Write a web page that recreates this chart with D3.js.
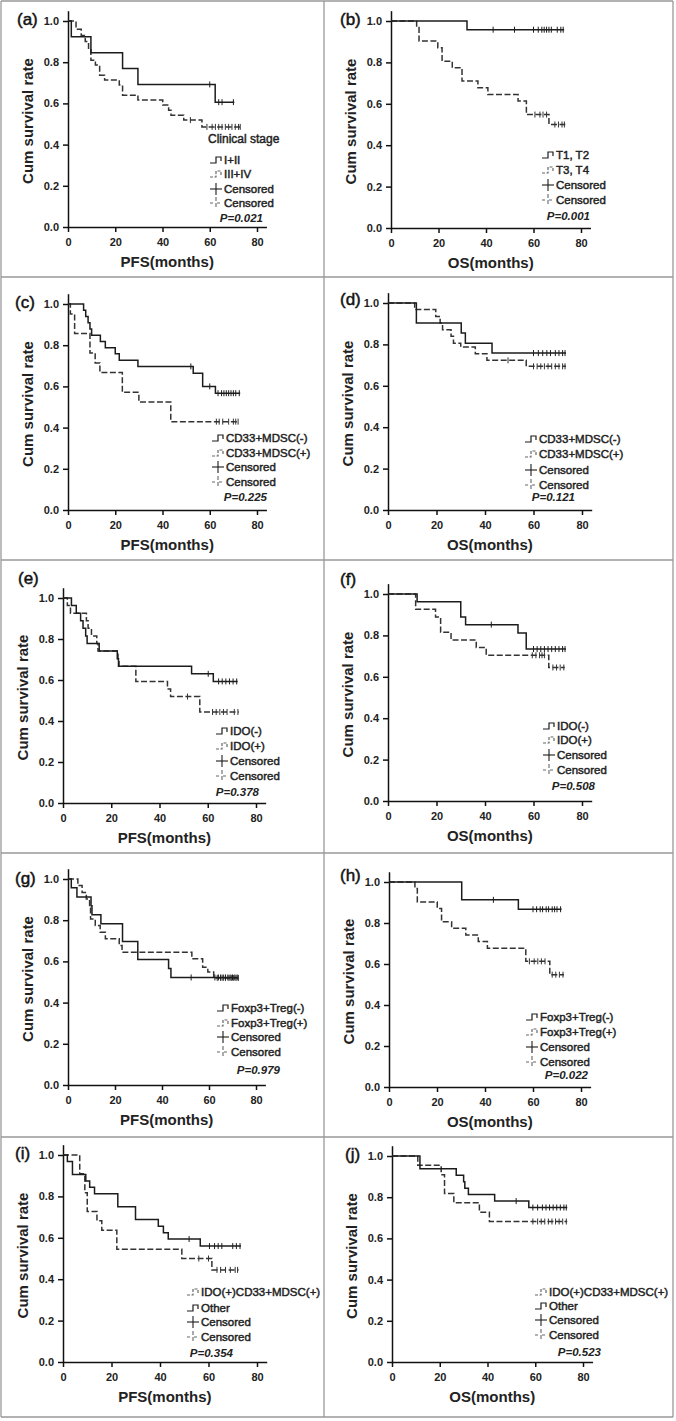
<!DOCTYPE html>
<html><head><meta charset="utf-8">
<script src="https://cdn.jsdelivr.net/npm/d3@7"></script>
<style>body{margin:0;background:#fff}svg{display:block;font-family:"Liberation Sans",Arial,sans-serif}</style>
</head><body><svg id="chart" width="676" height="1421"></svg>
<script>
// ---------- DATA (time in months, cumulative survival) ----------
const aSolid = [[0,1],[1.4,0.923],[9.7,0.846],[23.1,0.769],[29.6,0.692],[62.3,0.606]];
const aSolidCens = [60,63.8,65.2,70];
const aDashed = [[0,1],[3.4,0.96],[5.6,0.93],[7.3,0.90],[8.7,0.86],[9.7,0.81],[11.6,0.786],[13.4,0.737],[15.5,0.713],[21.7,0.689],[23.1,0.64],[29.6,0.616],[40.1,0.592],[42.6,0.567],[43.6,0.543],[49,0.519],[56.7,0.486]];
const aDashedCens = [51.8,58.8,61,62.4,63.8,65.2,66.6,68,69.4,70.8,72.2,72.9];

const bSolid = [[0,1],[32,0.958]];
const bSolidCens = [43,52,60,62,63.5,64.5,65.5,66.5,67.5,70,71.5,72.5];
const bDashed = [[0,1],[10.8,0.968],[11.8,0.903],[19.7,0.871],[21.5,0.806],[25.8,0.774],[29.9,0.71],[36.6,0.677],[40.8,0.645],[53.5,0.613],[57,0.548],[66.5,0.5]];
const bDashedCens = [60.6,62.7,64,65.5,69,70.5,72,73];

const cSolid = [[0,1],[6.6,0.97],[7.5,0.939],[8.5,0.909],[9.3,0.879],[10,0.848],[13.7,0.818],[15.8,0.788],[20,0.758],[21.7,0.727],[29.6,0.697],[53,0.664],[57,0.6],[62.4,0.567]];
const cSolidCens = [52,60,63.5,65,66,67,68,69,70,71,72.5];
const cDashed = [[0,1],[1.0,0.952],[2.8,0.857],[9.3,0.762],[11.5,0.714],[13.5,0.667],[23,0.571],[30,0.524],[43.5,0.429]];
const cDashedCens = [62.8,64,65.5,68,70,71,72];

const dSolid = [[0,1],[11.7,0.903],[30.2,0.855],[31.9,0.806],[42.9,0.758]];
const dSolidCens = [60,62,63.8,65.5,67,69,70.5,72,73];
const dDashed = [[0,1],[11,0.968],[19.7,0.935],[21.5,0.903],[22.5,0.871],[26,0.839],[27,0.806],[30,0.787],[36,0.755],[40.8,0.723],[57,0.694]];
const dDashedCens = [49.5,60,61.5,63,64.5,66,67.5,69,70.5,72,73];

const eSolid = [[0,1],[3.5,0.963],[5.5,0.926],[7.3,0.889],[8.3,0.852],[9.4,0.815],[10,0.778],[15,0.741],[22.5,0.704],[23,0.667],[53.3,0.63],[62.3,0.593]];
const eSolidCens = [60.2,64.5,66,67.5,69,70.5,72];
const eDashed = [[0,1],[1.8,0.963],[3.1,0.926],[9.7,0.889],[10.4,0.852],[11.8,0.815],[14,0.778],[14.5,0.741],[22.8,0.704],[23.2,0.667],[30.2,0.593],[43.3,0.556],[44.6,0.519],[56.7,0.444]];
const eDashedCens = [51.6,62,63.5,65,66.5,68,71,72.5];

const fSolid = [[0,1],[12,0.963],[30,0.889],[32,0.852],[53.6,0.811],[57,0.734]];
const fSolidCens = [42.6,60,61.5,63,64.5,66,67.5,69,70.5,72,73];
const fDashed = [[0,1],[11.4,0.926],[19.6,0.889],[21.7,0.815],[26,0.778],[36.4,0.741],[40.5,0.704],[66.3,0.645]];
const fDashedCens = [59.5,61,62.5,63.5,64.5,68,69.5,71,72.5];

const gSolid = [[0,1],[1.4,0.957],[3.8,0.913],[9.8,0.87],[10.2,0.826],[14,0.783],[23.2,0.696],[29.7,0.609],[42.8,0.565],[43.8,0.522]];
const gSolidCens = [52.4,62.5,64,65,66,67,68,69,70,71,72];
const gDashed = [[0,1],[4.2,0.968],[6,0.935],[7.8,0.903],[9.2,0.871],[9.6,0.806],[11.6,0.774],[13.7,0.742],[15.9,0.71],[21.8,0.677],[23,0.645],[52.7,0.613],[57.3,0.571],[59.5,0.548],[62,0.52]];
const gDashedCens = [63.5,65,66,67,68.5,69.5,70.5,71.5,72.5];

const hSolid = [[0,1],[30.3,0.913],[53.9,0.867]];
const hSolidCens = [43.5,60,61.5,63,64,65.5,66.5,68,69,70,71.5];
const hDashed = [[0,1],[10.8,0.968],[11.8,0.903],[20.1,0.871],[21.9,0.806],[26.1,0.774],[32,0.742],[37.2,0.71],[41,0.677],[57,0.613],[67,0.548]];
const hDashedCens = [58.5,60.5,62,63.5,65,68,69.5,71,72.5];

const iSolid = [[0,1],[1.8,0.969],[3.9,0.906],[9.4,0.875],[11,0.844],[13,0.813],[22.6,0.75],[29.9,0.688],[39.3,0.656],[41.4,0.625],[43.4,0.594],[56.6,0.56]];
const iSolidCens = [52,60.4,62.5,64,65.5,70,71.5,73];
const iDashed = [[0,1],[6.9,0.909],[9,0.818],[10,0.727],[14,0.682],[16,0.636],[22.2,0.545],[49,0.5],[61.4,0.445]];
const iDashedCens = [56,60,63.5,65,67,69,71,72];

const jSolid = [[0,1],[11.7,0.938],[26.9,0.906],[30,0.875],[30.5,0.844],[32,0.813],[43,0.781],[57.3,0.75]];
const jSolidCens = [52,59,61,63,64.5,66,67.5,69,70.5,72,73];
const jDashed = [[0,1],[10.8,0.955],[20.6,0.909],[22,0.818],[25.9,0.773],[36.6,0.727],[40.8,0.682]];
const jDashedCens = [59,61,62.5,64,65.5,67,68.5,70,71.5,73];

const panelTags = ["(a)","(b)","(c)","(d)","(e)","(f)","(g)","(h)","(i)","(j)"];
const xTitles = ["PFS(months)","OS(months)","PFS(months)","OS(months)","PFS(months)","OS(months)","PFS(months)","OS(months)","PFS(months)","OS(months)"];
const groupNames = [
  ["I+II","III+IV"],["T1, T2","T3, T4"],
  ["CD33+MDSC(-)","CD33+MDSC(+)"],["CD33+MDSC(-)","CD33+MDSC(+)"],
  ["IDO(-)","IDO(+)"],["IDO(-)","IDO(+)"],
  ["Foxp3+Treg(-)","Foxp3+Treg(+)"],["Foxp3+Treg(-)","Foxp3+Treg(+)"],
  ["Other","IDO(+)CD33+MDSC(+)"],["Other","IDO(+)CD33+MDSC(+)"]
];
const pValues = ["0.021","0.001","0.225","0.121","0.378","0.508","0.979","0.022","0.354","0.523"];
const yTicks = [0,0.2,0.4,0.6,0.8,1.0];
const xTicks = [0,20,40,60,80];
const censLabel = "Censored";
const legendHeader = "Clinical stage";

const curves = [
  [aSolid,aSolidCens,aDashed,aDashedCens],[bSolid,bSolidCens,bDashed,bDashedCens],
  [cSolid,cSolidCens,cDashed,cDashedCens],[dSolid,dSolidCens,dDashed,dDashedCens],
  [eSolid,eSolidCens,eDashed,eDashedCens],[fSolid,fSolidCens,fDashed,fDashedCens],
  [gSolid,gSolidCens,gDashed,gDashedCens],[hSolid,hSolidCens,hDashed,hDashedCens],
  [iSolid,iSolidCens,iDashed,iDashedCens],[jSolid,jSolidCens,jDashed,jDashedCens]
];

// ---------- LAYOUT ----------
const layout = [
  {x0:68,x80:257,y1:21,y0:227,tag:[17,25],sym:210,rows:[160,174,189,203],pR:263,pY:222,head:[208,143]},
  {x0:391,x80:581,y1:21,y0:228,tag:[340,25],sym:542,rows:[155,170,185,200],pR:590,pY:220},
  {x0:68,x80:257,y1:304,y0:510,tag:[15,308],sym:212,rows:[438,453,467,482],pR:267,pY:501},
  {x0:388,x80:582,y1:303,y0:510,tag:[340,305],sym:525,rows:[439,454,470,485],pR:575,pY:501},
  {x0:63,x80:256,y1:598,y0:803,tag:[18,584],sym:216,rows:[731,746,761,776],pR:259,pY:796},
  {x0:388,x80:582,y1:594,y0:801,tag:[340,585],sym:543,rows:[726,740,755,770],pR:595,pY:790},
  {x0:68,x80:256,y1:879,y0:1085,tag:[15,884],sym:217,rows:[1008,1023,1037,1052],pR:280,pY:1074},
  {x0:389,x80:581,y1:882,y0:1087,tag:[340,881],sym:526,rows:[1017,1032,1047,1062],pR:588,pY:1079},
  {x0:63,x80:257,y1:1155,y0:1362,tag:[15,1159],sym:187,rows:[1292,1308,1322,1337],pR:233,pY:1357,dashedFirst:true},
  {x0:392,x80:583,y1:1156,y0:1362,tag:[345,1160],sym:535,rows:[1292,1306,1320,1335],pR:601,pY:1356,dashedFirst:true}
];
const borderX = [1,324,673];
const borderY = [1,277,560,853,1137,1417];

const svg = d3.select("#chart");
const SOLID = "#1c1c1c", DASH = "#333", GRAY = "#666";

function survAt(pairs,t){ let s=1; pairs.forEach(p=>{ if(p[0]<=t) s=p[1]; }); return s; }
function heavy(sel,w){ return sel.attr("stroke","#222").attr("stroke-width",w).attr("paint-order","stroke"); }

layout.forEach((L,k) => {
  const g = svg.append("g");
  const pxPerMonth = (L.x80-L.x0)/80;
  const x = d3.scaleLinear().domain([0,84]).range([L.x0, L.x0+84*pxPerMonth]);
  const pxPerUnit = L.y0-L.y1;
  const y = d3.scaleLinear().domain([0,1.05]).range([L.y0, L.y0-1.05*pxPerUnit]);

  // axes
  const ya = g.append("g").attr("transform",`translate(${L.x0},0)`)
    .call(d3.axisLeft(y).tickValues(yTicks).tickFormat(d3.format(".1f")).tickSize(5).tickSizeOuter(0).tickPadding(4));
  const xa = g.append("g").attr("transform",`translate(0,${L.y0})`)
    .call(d3.axisBottom(x).tickValues(xTicks).tickFormat(d3.format("d")).tickSize(5).tickSizeOuter(0).tickPadding(6));
  [ya,xa].forEach(a => {
    a.selectAll("path,line").attr("stroke","#111").attr("stroke-width",1.5);
    a.selectAll("text").attr("font-size",11).attr("font-weight","bold").attr("fill","#222")
      .attr("font-family",'"Liberation Sans",Arial,sans-serif');
  });

  // titles
  g.append("text").attr("transform",`translate(${L.x0-35},${(L.y0+L.y1)/2-3}) rotate(-90)`)
    .attr("text-anchor","middle").attr("font-size",15).attr("font-weight","bold").attr("fill","#222").text("Cum survival rate");
  g.append("text").attr("x",(L.x0+x(84))/2).attr("y",L.y0+40).attr("text-anchor","middle")
    .attr("font-size",15).attr("font-weight","bold").attr("fill","#222").text(xTitles[k]);
  heavy(g.append("text").attr("x",L.tag[0]).attr("y",L.tag[1]).attr("font-size",17).attr("fill","#111").text(panelTags[k]),0.5);

  // curves
  const [sPairs,sCens,dPairs,dCens] = curves[k];
  const line = d3.line().x(d=>x(d[0])).y(d=>y(d[1])).curve(d3.curveStepAfter);
  function drawCurve(pairs,cens,dashed){
    const end = Math.max(pairs[pairs.length-1][0], d3.max(cens)) + 0.4;
    const pts = pairs.concat([[end, pairs[pairs.length-1][1]]]);
    g.append("path").datum(pts).attr("d",line).attr("fill","none")
      .attr("stroke",dashed?DASH:SOLID).attr("stroke-width",1.5)
      .attr("stroke-dasharray",dashed?"6,2.5":null);
    g.selectAll(null).data(cens).enter().append("line")
      .attr("x1",d=>x(d)).attr("x2",d=>x(d))
      .attr("y1",d=>y(survAt(pairs,d))-3).attr("y2",d=>y(survAt(pairs,d))+3)
      .attr("stroke",dashed?DASH:SOLID).attr("stroke-width",1);
  }
  drawCurve(dPairs,dCens,true);
  drawCurve(sPairs,sCens,false);

  // legend
  const lg = g.append("g").attr("font-size",11.5).attr("fill","#222");
  if (L.head) heavy(lg.append("text").attr("x",L.head[0]).attr("y",L.head[1]).attr("font-size",12).text(legendHeader),0.45);
  const items = L.dashedFirst
    ? [{t:"step",d:true,n:groupNames[k][1]},{t:"step",d:false,n:groupNames[k][0]},{t:"cens",d:false,n:censLabel},{t:"cens",d:true,n:censLabel}]
    : [{t:"step",d:false,n:groupNames[k][0]},{t:"step",d:true,n:groupNames[k][1]},{t:"cens",d:false,n:censLabel},{t:"cens",d:true,n:censLabel}];
  items.forEach((it,r) => {
    const cy = L.rows[r], sx = L.sym;
    if (it.t==="step") {
      lg.append("path").attr("d",`M${sx},${cy+3}H${sx+6}V${cy-3}H${sx+11}V${cy+1}`)
        .attr("fill","none").attr("stroke",it.d?GRAY:SOLID).attr("stroke-width",1.2)
        .attr("stroke-dasharray",it.d?"3,1.5":null);
    } else {
      lg.append("path").attr("d",`M${sx},${cy}H${sx+12}`).attr("stroke",it.d?GRAY:SOLID).attr("stroke-width",1.1)
        .attr("stroke-dasharray",it.d?"3,4":null);
      lg.append("path").attr("d",`M${sx+6},${cy-6}V${cy+6}`).attr("stroke",it.d?GRAY:SOLID).attr("stroke-width",1.1)
        .attr("stroke-dasharray",it.d?"4,2":null);
    }
    heavy(lg.append("text").attr("x",sx+14).attr("y",cy+4).text(it.n),0.45);
  });
  const pt = lg.append("text").attr("x",L.pR).attr("y",L.pY).attr("text-anchor","end")
    .attr("font-style","italic").attr("font-weight","bold").attr("font-size",11.5);
  pt.append("tspan").text("P");
  pt.append("tspan").text("=" + pValues[k]);
});

// panel borders drawn last, on top; white mask beyond the right border
svg.append("rect").attr("x",borderX[2]).attr("y",0).attr("width",676-borderX[2]).attr("height",1421).attr("fill","#fff");
const bg = svg.append("g").attr("stroke","#999").attr("stroke-width",1.3);
borderX.forEach(bx => bg.append("line").attr("x1",bx).attr("x2",bx).attr("y1",borderY[0]).attr("y2",borderY[borderY.length-1]));
borderY.forEach(by => bg.append("line").attr("x1",borderX[0]).attr("x2",borderX[2]).attr("y1",by).attr("y2",by));
</script></body></html>
